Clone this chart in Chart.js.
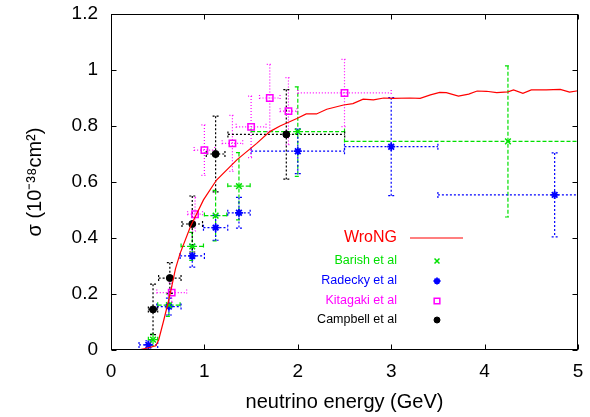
<!DOCTYPE html>
<html>
<head>
<meta charset="utf-8">
<script src="https://cdn.jsdelivr.net/npm/chart.js@4.4.0/dist/chart.umd.min.js"></script>
<style>
  html, body { margin: 0; padding: 0; background: #fff; }
</style>
</head>
<body>
<canvas id="chart" width="590" height="417"></canvas>
<script>
// WroNG prediction curve
var wrongX = [0.29, 0.40, 0.48, 0.51, 0.56, 0.61, 0.65, 0.69, 0.74, 0.85, 0.99, 1.13, 1.35, 1.56, 1.70, 1.81, 1.99, 2.09, 2.20, 2.31, 2.49, 2.59, 2.70, 2.81, 2.92, 3.02, 3.20, 3.31, 3.42, 3.52, 3.59, 3.72, 3.83, 3.92, 4.02, 4.13, 4.25, 4.31, 4.41, 4.50, 4.66, 4.81, 4.91, 5.00];
var wrongY = [0.000, 0.008, 0.015, 0.036, 0.100, 0.167, 0.226, 0.290, 0.345, 0.440, 0.536, 0.607, 0.680, 0.738, 0.780, 0.800, 0.827, 0.843, 0.843, 0.860, 0.875, 0.880, 0.896, 0.893, 0.900, 0.899, 0.900, 0.899, 0.911, 0.920, 0.919, 0.907, 0.914, 0.925, 0.924, 0.919, 0.922, 0.929, 0.917, 0.929, 0.929, 0.931, 0.921, 0.926];

// Barish et al
var barishX  = [0.45, 0.62, 0.87, 1.12, 1.37, 2.00, 4.25];
var barishY  = [0.037, 0.160, 0.370, 0.480, 0.585, 0.780, 0.745];
var barishDx = [0.05, 0.12, 0.12, 0.12, 0.12, 0.50, 1.75];
var barishDy = [0.020, 0.040, 0.050, 0.090, 0.120, 0.160, 0.270];

// Radecky et al
var radeckyX  = [0.40, 0.62, 0.87, 1.12, 1.37, 2.00, 3.00, 4.75];
var radeckyY  = [0.018, 0.155, 0.336, 0.437, 0.490, 0.710, 0.726, 0.554];
var radeckyDx = [0.10, 0.13, 0.13, 0.13, 0.12, 0.50, 0.50, 1.25];
var radeckyDy = [0.015, 0.030, 0.040, 0.045, 0.055, 0.080, 0.175, 0.150];

// Kitagaki et al
var kitagakiX  = [0.65, 0.90, 1.00, 1.30, 1.50, 1.70, 1.90, 2.50];
var kitagakiY  = [0.205, 0.485, 0.714, 0.738, 0.797, 0.900, 0.853, 0.918];
var kitagakiDx = [0.16, 0.08, 0.11, 0.11, 0.16, 0.11, 0.09, 0.50];
var kitagakiDy = [0.035, 0.060, 0.090, 0.100, 0.110, 0.120, 0.120, 0.120];

// Campbell et al
var campbellX  = [0.45, 0.63, 0.87, 1.12, 1.877];
var campbellY  = [0.145, 0.257, 0.450, 0.700, 0.770];
var campbellDx = [0.05, 0.12, 0.11, 0.10, 0.625];
var campbellDy = [0.090, 0.055, 0.100, 0.135, 0.160];

var xTicks = [0, 1, 2, 3, 4, 5];
var yTicks = [0, 0.2, 0.4, 0.6, 0.8, 1, 1.2];

function pts(xs, ys) {
    var out = [];
    for (var i = 0; i < xs.length; i++) out.push({ x: xs[i], y: ys[i] });
    return out;
}

var GREEN = '#00e000', BLUE = '#0000ff', MAGENTA = '#ff00ff', BLACK = '#000000', RED = '#ff0000';
var FONT = '"Liberation Sans", Arial, sans-serif';

// draws the x/y error bars from errX / errY of each dataset
var errorBars = {
    id: 'errorBars',
    beforeDatasetsDraw: function (chart) {
        var ctx = chart.ctx, xs = chart.scales.x, ys = chart.scales.y, a = chart.chartArea;
        ctx.save();
        ctx.beginPath();
        ctx.rect(a.left, a.top, a.right - a.left, a.bottom - a.top);
        ctx.clip();
        chart.data.datasets.forEach(function (ds) {
            if (!ds.errX) return;
            ctx.strokeStyle = ds.borderColor;
            ctx.lineWidth = 1.2;
            ctx.setLineDash(ds.errDash);
            ds.data.forEach(function (p, i) {
                var px = xs.getPixelForValue(p.x), py = ys.getPixelForValue(p.y);
                var xl = xs.getPixelForValue(p.x - ds.errX[i]), xr = xs.getPixelForValue(p.x + ds.errX[i]);
                var yt = ys.getPixelForValue(p.y + ds.errY[i]), yb = ys.getPixelForValue(p.y - ds.errY[i]);
                var c = 3;
                ctx.beginPath();
                ctx.moveTo(xl, py); ctx.lineTo(xr, py);
                ctx.moveTo(px, yt); ctx.lineTo(px, yb);
                ctx.moveTo(xl, py - c); ctx.lineTo(xl, py + c);
                ctx.moveTo(xr, py - c); ctx.lineTo(xr, py + c);
                ctx.moveTo(px - c, yt); ctx.lineTo(px + c, yt);
                ctx.moveTo(px - c, yb); ctx.lineTo(px + c, yb);
                ctx.stroke();
            });
        });
        ctx.restore();
    }
};

// gnuplot style box with inward ticks, plus the key
var frame = {
    id: 'frame',
    afterDraw: function (chart) {
        var ctx = chart.ctx, a = chart.chartArea, xs = chart.scales.x, ys = chart.scales.y;
        ctx.save();
        ctx.setLineDash([]);
        ctx.strokeStyle = '#000';
        ctx.lineWidth = 1;
        var L = Math.round(a.left) + 0.5, R = Math.round(a.right) - 0.5;
        var T = Math.round(a.top) + 0.5, B = Math.round(a.bottom) - 0.5;
        ctx.strokeRect(L, T, R - L, B - T);
        ctx.beginPath();
        xs.ticks.forEach(function (t) {
            var px = Math.round(xs.getPixelForValue(t.value)) + 0.5;
            ctx.moveTo(px, B); ctx.lineTo(px, B - 5);
            ctx.moveTo(px, T); ctx.lineTo(px, T + 5);
        });
        ys.ticks.forEach(function (t) {
            var py = Math.round(ys.getPixelForValue(t.value)) + 0.5;
            ctx.moveTo(L, py); ctx.lineTo(L + 5, py);
            ctx.moveTo(R, py); ctx.lineTo(R - 5, py);
        });
        ctx.stroke();

        // key
        var textR = a.left + 286, markX = a.left + 326;
        ctx.textAlign = 'right';
        ctx.textBaseline = 'middle';
        ctx.font = '16px ' + FONT;
        ctx.fillStyle = RED;
        ctx.fillText('WroNG', textR, a.top + 224);
        ctx.strokeStyle = RED;
        ctx.lineWidth = 1.2;
        ctx.beginPath();
        ctx.moveTo(a.left + 299, a.top + 224); ctx.lineTo(a.left + 352, a.top + 224);
        ctx.stroke();

        var rows = [1, 2, 3, 4];
        var rowY = [247, 267, 287, 306];
        ctx.font = '12.5px ' + FONT;
        rows.forEach(function (di, k) {
            var ds = chart.data.datasets[di];
            var y = a.top + rowY[k];
            ctx.fillStyle = ds.borderColor;
            ctx.fillText(ds.label, textR, y);
            ctx.strokeStyle = ds.borderColor;
            ctx.fillStyle = ds.pointBackgroundColor;
            ctx.lineWidth = ds.pointBorderWidth;
            Chart.helpers.drawPoint(ctx, {
                pointStyle: ds.pointStyle, radius: ds.pointRadius - 0.5,
                rotation: 0, borderWidth: ds.pointBorderWidth
            }, markX, y);
        });
        ctx.restore();
    }
};

var ctx = document.getElementById('chart').getContext('2d');
window.myChart = new Chart(ctx, {
    type: 'scatter',
    data: {
        datasets: [{
            label: 'WroNG',
            data: pts(wrongX, wrongY),
            showLine: true,
            borderColor: RED,
            borderWidth: 1.2,
            pointRadius: 0,
            tension: 0
        }, {
            label: 'Barish et al',
            data: pts(barishX, barishY),
            errX: barishDx, errY: barishDy, errDash: [4, 2],
            borderColor: GREEN,
            pointBackgroundColor: GREEN,
            pointStyle: 'crossRot',
            pointRadius: 4,
            pointBorderWidth: 1.5
        }, {
            label: 'Radecky et al',
            data: pts(radeckyX, radeckyY),
            errX: radeckyDx, errY: radeckyDy, errDash: [2, 2],
            borderColor: BLUE,
            pointBackgroundColor: BLUE,
            pointStyle: 'star',
            pointRadius: 4,
            pointBorderWidth: 1.8
        }, {
            label: 'Kitagaki et al',
            data: pts(kitagakiX, kitagakiY),
            errX: kitagakiDx, errY: kitagakiDy, errDash: [1, 2],
            borderColor: MAGENTA,
            pointBackgroundColor: 'rgba(0,0,0,0)',
            pointStyle: 'rect',
            pointRadius: 4.5,
            pointBorderWidth: 1.5
        }, {
            label: 'Campbell et al',
            data: pts(campbellX, campbellY),
            errX: campbellDx, errY: campbellDy, errDash: [2, 2],
            borderColor: BLACK,
            pointBackgroundColor: BLACK,
            pointStyle: 'circle',
            pointRadius: 3.5,
            pointBorderWidth: 1
        }]
    },
    options: {
        responsive: false,
        animation: false,
        devicePixelRatio: 1,
        layout: { padding: { left: 0, right: 12, top: 14, bottom: 0 } },
        plugins: { legend: { display: false }, tooltip: { enabled: false } },
        scales: {
            x: {
                type: 'linear', min: 0, max: 5,
                afterBuildTicks: function (s) { s.ticks = xTicks.map(function (v) { return { value: v }; }); },
                afterFit: function (s) { s.height = 67; s.paddingLeft = 0; s.paddingRight = 0; },
                grid: { display: false, drawTicks: false },
                border: { display: false },
                ticks: { padding: 10, color: '#000', font: { size: 19, family: FONT },
                         callback: function (v) { return String(v); } },
                title: { display: true, text: 'neutrino energy (GeV)', color: '#000', padding: { top: 0, bottom: 3 },
                         font: { size: 20, family: FONT } }
            },
            y: {
                type: 'linear', min: 0, max: 1.2,
                afterBuildTicks: function (s) { s.ticks = yTicks.map(function (v) { return { value: v }; }); },
                afterFit: function (s) { s.width = 111; s.paddingTop = 0; s.paddingBottom = 0; },
                grid: { display: false, drawTicks: false },
                border: { display: false },
                ticks: { padding: 13, color: '#000', font: { size: 19, family: FONT },
                         callback: function (v) { return String(v); } },
                title: { display: true, text: 'σ (10⁻³⁸cm²)', color: '#000', padding: 23,
                         font: { size: 20, family: FONT } }
            }
        }
    },
    plugins: [errorBars, frame]
});
</script>
</body>
</html>
